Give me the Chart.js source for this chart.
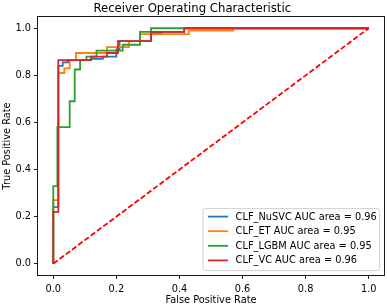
<!DOCTYPE html>
<html>
<head>
<meta charset="utf-8">
<script src="https://cdn.jsdelivr.net/npm/chart.js@4.4.0/dist/chart.umd.min.js"></script>
<style>
html,body{margin:0;padding:0;background:#fff;}
#wrap{width:387px;height:305px;}
</style>
</head>
<body>
<div id="wrap"><canvas id="c" width="387" height="305"></canvas></div>
<script>
const titleText = "Receiver Operating Characteristic";
const xTitle = "False Positive Rate";
const yTitle = "True Positive Rate";
const tickValues = [0.0, 0.2, 0.4, 0.6, 0.8, 1.0];

const labels = ["CLF_NuSVC AUC area = 0.96", "CLF_ET AUC area = 0.95", "CLF_LGBM AUC area = 0.95", "CLF_VC AUC area = 0.96"];
const colors = ["#1f77b4", "#ff7f0e", "#2ca02c", "#d62728"];

const nusvcFpr = [0, 0, 0.016, 0.016, 0.030, 0.030, 0.047, 0.047, 0.120, 0.120, 0.157, 0.157, 0.200, 0.200, 0.210, 0.210, 0.310, 0.310, 0.345, 0.345, 0.415, 0.415, 1];
const nusvcTpr = [0, 0.24, 0.24, 0.84, 0.84, 0.855, 0.855, 0.865, 0.865, 0.87, 0.87, 0.88, 0.88, 0.91, 0.91, 0.945, 0.945, 0.98, 0.98, 0.985, 0.985, 1, 1];

const etFpr = [0, 0, 0.016, 0.016, 0.035, 0.035, 0.052, 0.052, 0.072, 0.072, 0.170, 0.170, 0.240, 0.240, 0.275, 0.275, 0.430, 0.430, 0.570, 0.570, 1];
const etTpr = [0, 0.27, 0.27, 0.81, 0.81, 0.83, 0.83, 0.865, 0.865, 0.895, 0.895, 0.92, 0.92, 0.945, 0.945, 0.975, 0.975, 0.99, 0.99, 1, 1];

const lgbmFpr = [0, 0, 0.013, 0.013, 0.052, 0.052, 0.068, 0.068, 0.085, 0.085, 0.105, 0.105, 0.137, 0.137, 0.220, 0.220, 0.275, 0.275, 0.310, 0.310, 1];
const lgbmTpr = [0, 0.33, 0.33, 0.58, 0.58, 0.69, 0.69, 0.825, 0.825, 0.865, 0.865, 0.88, 0.88, 0.905, 0.905, 0.93, 0.93, 0.985, 0.985, 1, 1];

const vcFpr = [0, 0, 0.016, 0.016, 0.120, 0.120, 0.170, 0.170, 0.205, 0.205, 0.310, 0.310, 0.415, 0.415, 1];
const vcTpr = [0, 0.22, 0.22, 0.865, 0.865, 0.88, 0.88, 0.895, 0.895, 0.945, 0.945, 0.985, 0.985, 1, 1];

const diagX = [0, 1];
const diagY = [0, 1];

function zip(xs, ys){ return xs.map((x,i)=>({x:x, y:ys[i]})); }

const FONT = "'DejaVu Sans', sans-serif";

const frameAndLegend = {
  id: 'frameAndLegend',
  afterDatasetsDraw(chart){
    const ctx = chart.ctx;
    const a = chart.chartArea;
    ctx.save();
    ctx.strokeStyle = '#000';
    ctx.lineWidth = 0.9;
    ctx.strokeRect(a.left, a.top, a.right - a.left, a.bottom - a.top);
    const bw = 176.5, bh = 62;
    const bx = a.right - 4.9 - bw, by = a.bottom - 4.9 - bh;
    ctx.beginPath();
    if (ctx.roundRect) ctx.roundRect(bx, by, bw, bh, 2.5); else ctx.rect(bx, by, bw, bh);
    ctx.fillStyle = 'rgba(255,255,255,0.8)';
    ctx.fill();
    ctx.strokeStyle = '#cccccc';
    ctx.lineWidth = 0.9;
    ctx.stroke();
    ctx.font = "9.8px " + FONT;
    ctx.textBaseline = 'middle';
    ctx.textAlign = 'left';
    const rowH = 14.6;
    for (let i = 0; i < labels.length; i++) {
      const cy = by + 8 + i * rowH;
      ctx.beginPath();
      ctx.strokeStyle = colors[i];
      ctx.lineWidth = 1.8;
      ctx.moveTo(bx + 5, cy);
      ctx.lineTo(bx + 25, cy);
      ctx.stroke();
      ctx.fillStyle = '#000';
      ctx.fillText(labels[i], bx + 32.5, cy + 0.5);
    }
    ctx.restore();
  }
};

const ds = (xs, ys, i, order) => ({
  label: labels[i],
  data: zip(xs, ys),
  borderColor: colors[i],
  backgroundColor: colors[i],
  borderWidth: 1.8,
  showLine: true,
  pointRadius: 0,
  tension: 0,
  fill: false,
  order: order
});

new Chart(document.getElementById('c'), {
  type: 'scatter',
  data: {
    datasets: [
      ds(nusvcFpr, nusvcTpr, 0, 4),
      ds(etFpr, etTpr, 1, 3),
      ds(lgbmFpr, lgbmTpr, 2, 2),
      ds(vcFpr, vcTpr, 3, 1),
      {
        label: 'diag',
        data: zip(diagX, diagY),
        borderColor: '#ff0000',
        borderWidth: 1.8,
        borderDash: [5.4, 2.4],
        showLine: true,
        pointRadius: 0,
        order: 0
      }
    ]
  },
  options: {
    responsive: false,
    animation: false,
    devicePixelRatio: 1,
    layout: { padding: { left: 0, right: 2.5, top: 0, bottom: 0 } },
    plugins: {
      legend: { display: false },
      tooltip: { enabled: false },
      title: {
        display: true,
        text: titleText,
        color: '#000',
        font: { family: FONT, size: 11.7, weight: 'normal' },
        padding: { top: 2.2, bottom: 0.26 }
      }
    },
    scales: {
      x: {
        type: 'linear',
        min: -0.05, max: 1.05,
        afterBuildTicks: s => { s.ticks = tickValues.map(v => ({ value: v })); },
        afterFit: s => { s.height = 29.5; },
        ticks: {
          color: '#000',
          font: { family: FONT, size: 9.8 },
          padding: 4.5,
          maxRotation: 0,
          autoSkip: false,
          callback: v => Number(v).toFixed(1)
        },
        grid: { display: true, drawOnChartArea: false, drawTicks: true, tickLength: 3.5, color: '#000', lineWidth: 0.9 },
        border: { display: false },
        title: { display: true, text: xTitle, color: '#000', font: { family: FONT, size: 9.8 }, padding: { top: 0, bottom: -1 } }
      },
      y: {
        type: 'linear',
        min: -0.05, max: 1.05,
        afterBuildTicks: s => { s.ticks = tickValues.map(v => ({ value: v })); },
        afterFit: s => { s.width = 37.5; },
        ticks: {
          color: '#000',
          font: { family: FONT, size: 9.8 },
          padding: 3,
          autoSkip: false,
          callback: v => Number(v).toFixed(1)
        },
        grid: { display: true, drawOnChartArea: false, drawTicks: true, tickLength: 3.5, color: '#000', lineWidth: 0.9 },
        border: { display: false },
        title: { display: true, text: yTitle, color: '#000', font: { family: FONT, size: 9.8 }, padding: { top: 2, bottom: 0 } }
      }
    }
  },
  plugins: [frameAndLegend]
});
</script>
</body>
</html>
